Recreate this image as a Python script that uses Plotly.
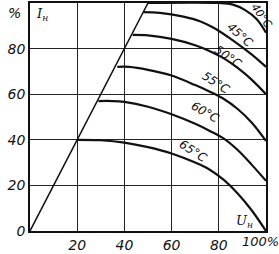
import plotly.graph_objects as go

# Data
curve_labels = ["40°C", "45°C", "50°C", "55°C", "60°C", "65°C"]
x40 = [50, 80, 86, 91, 96, 100]
y40 = [100, 100, 99.3, 97, 93, 87]
x45 = [48, 55, 65, 72, 78, 84, 90, 95, 100]
y45 = [96, 95.7, 94, 92, 89, 85, 80.5, 76.5, 72]
x50 = [43.5, 50, 60, 70, 76, 82, 88, 94, 100]
y50 = [86, 85.8, 84.3, 81.5, 79, 75.8, 71.5, 66.3, 60]
x55 = [37, 42, 50, 60, 70, 76, 82, 88, 94, 100]
y55 = [72, 72, 70.7, 68.2, 64, 61.2, 58, 53.5, 47.5, 39.5]
x60 = [29, 35, 40, 50, 60, 70, 76, 82, 88, 94, 100]
y60 = [57, 57, 56.6, 54.5, 51.2, 47, 44, 40.6, 35.5, 29, 22]
x65 = [20, 30, 40, 50, 60, 70, 76, 82, 88, 94, 100]
y65 = [40, 39.8, 38.8, 36.8, 34, 30, 27, 22.5, 16.5, 9, 0]
diag_x = [0, 50]
diag_y = [0, 100]

label_x = [98, 89, 84, 79, 74, 69]
label_y = [94.5, 86, 76.3, 65, 52, 35]
label_angle = [55, 42, 35, 33, 30, 33]
label_size = [11, 12, 12, 12, 12, 12]

x_ticks = [20, 40, 60, 80]
x_ticktext = ["20", "40", "60", "80"]
y_ticks = [0, 20, 40, 60, 80]
y_ticktext = ["0", "20", "40", "60", "80"]

curves_x = [x40, x45, x50, x55, x60, x65]
curves_y = [y40, y45, y50, y55, y60, y65]

fig = go.Figure()
fig.add_trace(go.Scatter(x=diag_x, y=diag_y, mode="lines",
                         line=dict(color="#111", width=1.5), showlegend=False))
for cx, cy in zip(curves_x, curves_y):
    fig.add_trace(go.Scatter(x=cx, y=cy, mode="lines",
                             line=dict(color="#111", width=2.2, shape="spline", smoothing=1.0),
                             showlegend=False))

font_it = dict(family="DejaVu Sans", size=14, color="#111", style="italic")
for t, lx, ly, ang, sz in zip(curve_labels, label_x, label_y, label_angle, label_size):
    fig.add_annotation(x=lx, y=ly, text=t, showarrow=False, textangle=ang,
                       font=dict(family="DejaVu Sans", size=sz, color="#111", style="italic"))

fig.add_annotation(x=-0.064, y=0.955, xref="paper", yref="paper", text="%", showarrow=False,
                   xanchor="center", yanchor="middle", font=font_it)
fig.add_annotation(x=100, y=-0.045, xref="x", yref="paper", text="100%", showarrow=False,
                   xanchor="center", yanchor="middle", xshift=-6,
                   font=dict(family="DejaVu Sans", size=13, color="#111", style="italic"))
fig.add_annotation(x=5, y=95, text="I<sub>н</sub>", showarrow=False,
                   font=dict(family="DejaVu Serif", size=13, color="#111", style="italic"))
fig.add_annotation(x=91, y=4, text="U<sub>н</sub>", showarrow=False,
                   font=dict(family="DejaVu Serif", size=13, color="#111", style="italic"))

axis_common = dict(showgrid=True, gridcolor="#222", gridwidth=1.3, zeroline=False,
                   showline=True, linecolor="#111", linewidth=1.8, mirror=True,
                   ticks="", tickfont=font_it)
fig.update_xaxes(range=[0, 100], tickvals=x_ticks, ticktext=x_ticktext, **axis_common)
fig.update_yaxes(range=[0, 100], tickvals=y_ticks, ticktext=y_ticktext, **axis_common)

fig.update_layout(width=279, height=254, margin=dict(l=30, r=13, t=1, b=19),
                  plot_bgcolor="white", paper_bgcolor="white")
fig.write_html("out.html")
